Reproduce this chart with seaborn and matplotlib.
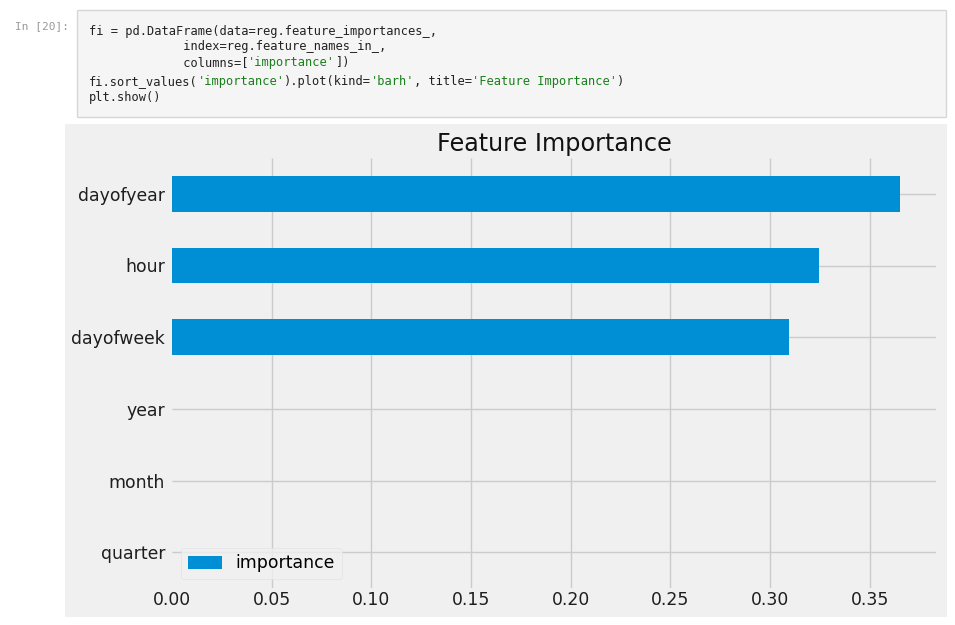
import matplotlib
matplotlib.use("Agg")
import matplotlib.pyplot as plt
from matplotlib.patches import Rectangle
import seaborn as sns
import pandas as pd

features = ["dayofyear", "hour", "dayofweek", "year", "month", "quarter"]
importance = [0.365, 0.3245, 0.3095, 0.0, 0.0, 0.0]
xticks = [0.00, 0.05, 0.10, 0.15, 0.20, 0.25, 0.30, 0.35]

code_lines = [
    [("fi = pd.DataFrame(data=reg.feature_importances_,", "#222222")],
    [("             index=reg.feature_names_in_,", "#222222")],
    [("             columns=[", "#222222"), ("'importance'", "#1a7f1a"), ("])", "#222222")],
    [("fi.sort_values(", "#222222"), ("'importance'", "#1a7f1a"), (").plot(kind=", "#222222"),
     ("'barh'", "#1a7f1a"), (", title=", "#222222"), ("'Feature Importance'", "#1a7f1a"), (")", "#222222")],
    [("plt.show()", "#222222")],
]

plt.style.use("fivethirtyeight")
W, H = 955, 625
fig = plt.figure(figsize=(W / 100, H / 100), dpi=100)
fig.patch.set_facecolor("white")

def fx(px):
    return px / W

def fy(py):
    return 1 - py / H

# notebook code cell
fig.patches.append(Rectangle((fx(77), fy(117)), fx(946) - fx(77), fy(10) - fy(117),
                             transform=fig.transFigure, facecolor="#f5f5f5",
                             edgecolor="#d6d6d6", linewidth=1, zorder=-10))
fig.text(fx(15), fy(29), "In [20]:", family="DejaVu Sans Mono", fontsize=8.0,
         color="#9a9a9a", va="baseline", ha="left")
cw = 7.23
line_y = [35, 50, 66, 85, 101]
for ly, segs in zip(line_y, code_lines):
    col = 0
    for txt, c in segs:
        fig.text(fx(89 + col * cw), fy(ly), txt, family="DejaVu Sans Mono",
                 fontsize=8.65, color=c, va="baseline", ha="left")
        col += len(txt)

# chart background
fig.patches.append(Rectangle((fx(65), fy(617)), fx(947) - fx(65), fy(124) - fy(617),
                             transform=fig.transFigure, facecolor="#f0f0f0",
                             edgecolor="none", zorder=-10))

ax = fig.add_axes([fx(172), fy(588), fx(936) - fx(172), fy(158) - fy(588)])
ax.set_facecolor("#f0f0f0")
df = pd.DataFrame({"feature": features, "importance": importance})
sns.barplot(data=df, x="importance", y="feature", order=features, orient="h",
            color="#008fd5", width=0.5, saturation=1, ax=ax, label="importance",
            linewidth=0)
ax.set_xlim(0, max(importance) * 1.05)
ax.set_ylim(len(features) - 0.5, -0.5)
ax.set_xticks(xticks)
ax.set_xticklabels([f"{t:.2f}" for t in xticks])
ax.set_xlabel("")
ax.set_ylabel("")
ax.grid(True, color="#cbcbcb", linewidth=1)
ax.set_axisbelow(True)
ax.get_xgridlines()[0].set_visible(False)
for s in ax.spines.values():
    s.set_visible(False)
ax.tick_params(axis="both", length=0, labelsize=12.4, colors="#1e1e1e")
ax.tick_params(axis="y", pad=5)
ax.tick_params(axis="x", pad=2)
ax.set_title("Feature Importance", fontsize=17.2, color="#111111", pad=5)
leg = ax.legend(loc="lower left", fontsize=12.4, frameon=True)
leg.get_frame().set_facecolor("#f0f0f0")
leg.get_frame().set_edgecolor("#e0e0e0")

fig.savefig("out.png", dpi=100, facecolor=fig.get_facecolor())
